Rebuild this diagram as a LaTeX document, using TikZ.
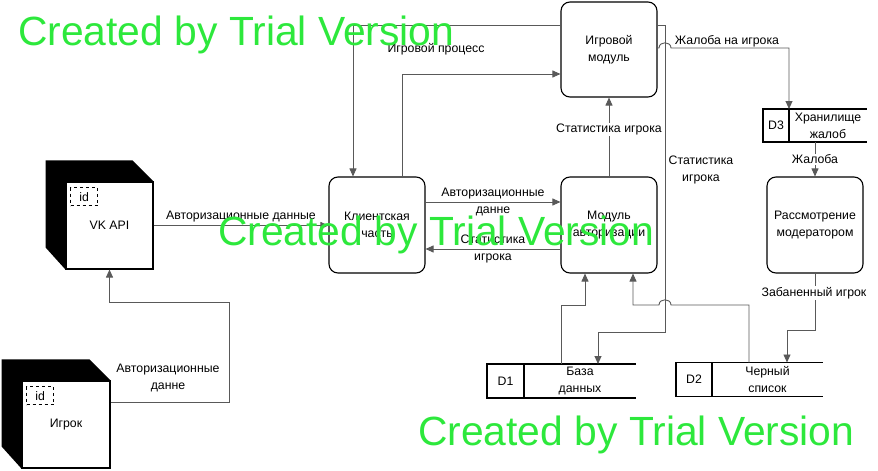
\documentclass[tikz,border=0pt]{standalone}
\usepackage{fontspec}
\setmainfont{Liberation Sans}
\usetikzlibrary{arrows.meta,positioning,calc}

\colorlet{flowline}{black!65}
\definecolor{trial}{RGB}{45,232,60}
\tikzset{
  process/.style={rectangle,draw,line width=1.1pt,rounded corners=9pt,minimum width=96pt,minimum height=96pt,align=center},
  entity/.style={rectangle,draw,line width=1.1pt,fill=white,minimum width=87pt,minimum height=87pt,inner sep=0pt},
  idtag/.style={rectangle,draw,dashed,minimum width=27pt,minimum height=18pt,inner sep=0pt},
  storeid/.style={rectangle,draw,line width=1.1pt,minimum height=34pt,inner sep=0pt,outer sep=0pt},
  storename/.style={rectangle,minimum height=34pt,inner sep=0pt,outer sep=0pt,align=center},
  storeline/.style={line width=1.1pt},
  flow/.style={draw=flowline,line width=0.9pt,-{Triangle[length=8pt,width=7pt]}},
  lbl/.style={align=center,inner sep=1pt},
  watermark/.style={text=trial,font=\fontsize{40.8}{45}\selectfont,anchor=base west,inner sep=0pt},
}

\begin{document}
\begin{tikzpicture}[
      x=1pt,y=-1pt,
      every node/.style={font=\fontsize{12.3}{17}\selectfont},
      ]
  \useasboundingbox (0,0) rectangle (878,471);

  \node[entity] (vk) at (109.5,225.5) {VK API};
  \fill (vk.north east) -- ++(-21,-21) -- ++(-87,0) -- ++(0,87) -- (vk.south west) -- (vk.north west) -- cycle;
  \node[idtag,below right=6pt and 5pt of vk.north west] (vkid) {id};

  \node[entity,minimum width=88pt] (igrok) at (66,424.5) {Игрок};
  \fill (igrok.north east) -- ++(-21,-21) -- ++(-88,0) -- ++(0,87) -- (igrok.south west) -- (igrok.north west) -- cycle;
  \node[idtag,below right=6pt and 5pt of igrok.north west] (igrokid) {id};

  \node[process] (klient) at (377,225) {Клиентская\\часть};
  \node[process] (avtor) at (609,225) {Модуль\\авторизации};
  \node[process,minimum height=95pt] (igra) at (609,49.5) {Игровой\\модуль};
  \node[process] (rassm) at (815,225) {Рассмотрение\\модератором};

  \node[storeid,minimum width=37pt] (d1) at (505.5,381) {D1};
  \node[storename,minimum width=112pt,right=0pt of d1] (d1n) {База\\данных};
  \node[storeid,minimum width=36pt] (d2) at (694,379.5) {D2};
  \node[storename,minimum width=111pt,right=0pt of d2] (d2n) {Черный\\список};
  \node[storeid,minimum width=26pt,minimum height=33pt] (d3) at (776,125.5) {D3};
  \node[storename,minimum width=78pt,minimum height=33pt,right=0pt of d3] (d3n) {Хранилище\\жалоб};
  \foreach \s in {d1,d2,d3} {
    \draw[storeline] (\s.north east) -- (\s n.north east);
    \draw[storeline] (\s.south east) -- (\s n.south east);
  }

  \draw[flow] ($(igrok.north east)!0.25!(igrok.south east)$) -| (229,302) -| (vk.south);
  \node[lbl] (lblvk) at (168,378) {Авторизационные\\данне};

  \draw[flow] (vk.east) -- (klient.west |- vk.east)
    node[lbl,midway,above=2pt] (lblkl) {Авторизационные данные};

  \draw[flow] (klient.east |- 0,202) -- (avtor.west |- 0,202)
    node[lbl,midway] (lblav) {Авторизационные\\данне};
  \draw[flow] (avtor.west |- 0,249) -- (klient.east |- 0,249)
    node[lbl,midway] (lblst) {Статистика\\игрока};

  \draw[flow] (avtor.north) -- (igra.south)
    node[lbl,pos=0.6,fill=white] (lblig) {Статистика игрока};

  \draw[flow] (klient.north -| 402,0) |- (igra.west |- 0,74);
  \draw[flow] (igra.west |- 0,25) -| (klient.north -| 353,0);
  \node[lbl] (lblpr) at (436,49) {Игровой процесс};

  \draw[flow] (igra.east |- 0,25) -| (665,332) -| (d1n.north -| 598,0);
  \node[lbl] (lblbd) at (701,170) {Статистика\\игрока};

  \draw[flow] (igra.east |- 0,48) -- (659,48) .. controls (659,41) and (671,41) .. (671,48) -| (d3n.north west);
  \node[lbl] (lblzh) at (727,41) {Жалоба на игрока};

  \draw[flow] (rassm.north |- d3n.south) -- (rassm.north)
    node[lbl,midway,fill=white] (lblzb) {Жалоба};

  \draw[flow] (rassm.south) |- (787,330) -- (d2n.north -| 787,0);
  \node[lbl,fill=white] (lblban) at (814,293) {Забаненный игрок};

  \draw[flow] (d1n.north -| 561,0) |- (585,305) -- (avtor.south -| 585,0);
  \draw[flow] (d2n.north -| 749,0) |- (671,305) .. controls (671,298) and (659,298) .. (659,305) -| (avtor.south -| 633,0);

  \node[watermark] (wm1) at (18,45) {Created by Trial Version};
  \node[watermark] (wm2) at (218,245) {Created by Trial Version};
  \node[watermark] (wm3) at (418,445) {Created by Trial Version};
\end{tikzpicture}
\end{document}
